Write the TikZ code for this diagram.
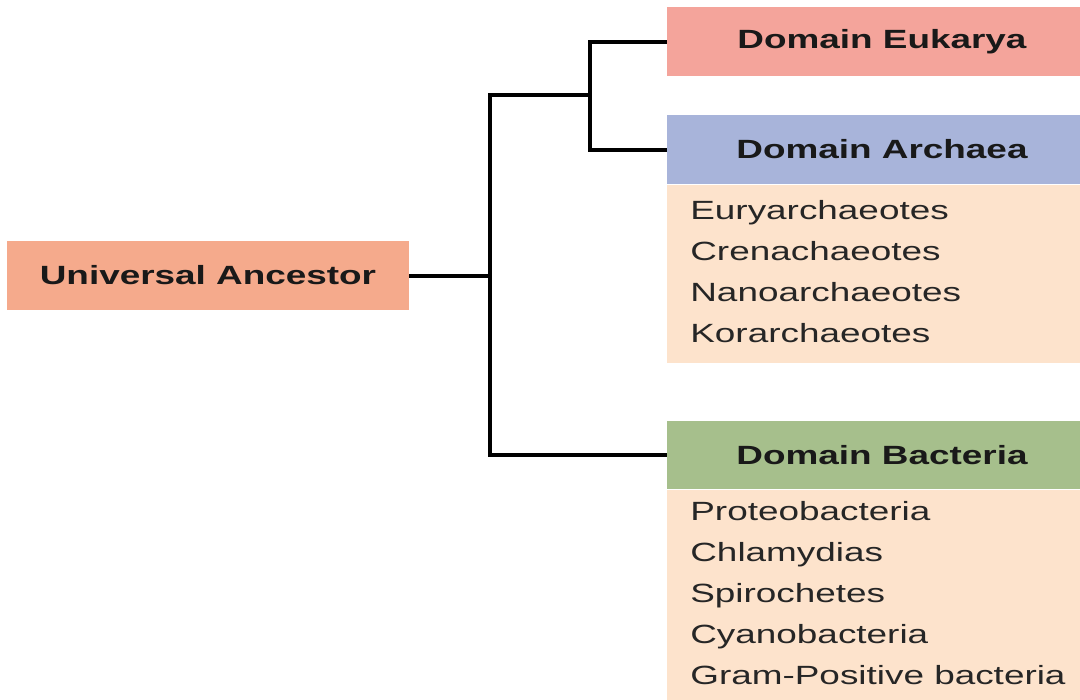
\documentclass[tikz,border=0pt]{standalone}
\usepackage{fontspec}
\newfontfamily\diagfont{Liberation Sans}[FakeStretch=1.4]
\usetikzlibrary{positioning}
\definecolor{ancestorfill}{RGB}{245,170,140}
\definecolor{eukfill}{RGB}{244,164,155}
\definecolor{archfill}{RGB}{168,180,218}
\definecolor{bactfill}{RGB}{166,191,140}
\definecolor{listfill}{RGB}{253,227,204}
\tikzset{
  titlebox/.style={rectangle,draw=none,inner sep=0pt,minimum width=8.6cm,minimum height=1.38cm,font=\diagfont\fontsize{15}{23}\selectfont\bfseries,text=black!90},
  listbox/.style={rectangle,draw=none,inner sep=0pt,minimum width=8.6cm,fill=listfill,anchor=north},
  listtext/.style={anchor=base west,inner sep=0pt,font=\diagfont\fontsize{15}{23}\selectfont,text=black!85},
  branch/.style={draw=black,line width=0.08cm}
}

\begin{document}
\begin{tikzpicture}[x=0.02cm,y=-0.02cm]
\useasboundingbox (0,0) rectangle (1080,700);
\clip (0,0) rectangle (1080,700);
\fill[white] (0,0) rectangle (1080,700);

\node[titlebox,fill=ancestorfill,minimum width=8.04cm] (ancestor) at (208,275.5) {Universal Ancestor};
\node[titlebox,fill=eukfill] (eukarya) at (882,41.5) {Domain Eukarya};
\node[titlebox,fill=archfill] (archaea) at (882,149.5) {Domain Archaea};
\node[listbox,minimum height=3.56cm] (archlist) at (archaea.south) {};
\node[titlebox,fill=bactfill] (bacteria) at (882,455) {Domain Bacteria};
\node[listbox,minimum height=4.6cm] (bactlist) at (bacteria.south) {};

\foreach \name [count=\i from 0] in {Euryarchaeotes,Crenachaeotes,Nanoarchaeotes,Korarchaeotes}
  \node[listtext] (arch\i) at (690,219+41*\i) {\name};
\foreach \name [count=\i from 0] in {Proteobacteria,Chlamydias,Spirochetes,Cyanobacteria,Gram-Positive bacteria}
  \node[listtext] (bact\i) at (690,520+41*\i) {\name};

\coordinate (split) at (490,95);
\coordinate (inner) at (590,95);
\draw[branch] (ancestor.east) -- (ancestor.east -| split);
\draw[branch] (eukarya.west) -| (inner) |- (archaea.west);
\draw[branch] (inner) -- (split) |- (bacteria.west);

\end{tikzpicture}
\end{document}
